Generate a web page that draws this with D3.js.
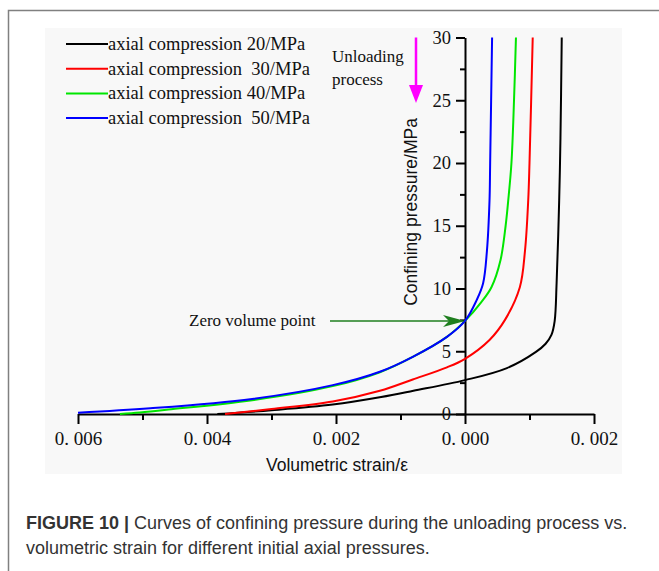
<!DOCTYPE html>
<html>
<head>
<meta charset="utf-8">
<script src="https://cdn.jsdelivr.net/npm/d3@7"></script>
<style>
  body { margin: 0; background: #fff; }
</style>
</head>
<body>
<div id="chart"></div>
<script>
// series names and colours
var seriesNames = ["axial compression 20/MPa", "axial compression  30/MPa", "axial compression 40/MPa", "axial compression  50/MPa"];
var seriesColors = ["#000000", "#ff0000", "#00e600", "#0000ff"];

// volumetric strain (positive = left) and confining pressure
var strain20 = [0.00384, 0.0030, 0.00205, 0.0013, 0.0008, 0, -0.00065, -0.00110, -0.00125, -0.00134, -0.00139, -0.00142, -0.00146, -0.00148, -0.0015];
var press20  = [0, 0.3, 0.75, 1.35, 1.85, 2.7, 3.66, 4.95, 5.6, 6.3, 7.4, 10.4, 17, 22, 30];

var strain30 = [0.00372, 0.0030, 0.00205, 0.00132, 0.00081, 0.00028, 0, -0.00038, -0.00062, -0.00085, -0.00093, -0.00098, -0.00100, -0.00105];
var press30  = [0, 0.4, 1.0, 1.85, 2.75, 3.72, 4.4, 5.9, 7.5, 10.1, 13, 17, 20, 30];

var strain40 = [0.00535, 0.00504, 0.0046, 0.0033, 0.00205, 0.00132, 0.00081, 0.00028, 0, -0.00025, -0.00041, -0.00055, -0.00063, -0.00067, -0.00072, -0.00076, -0.00079];
var press40  = [0, 0.12, 0.35, 1.1, 2.22, 3.33, 4.55, 6.15, 7.42, 8.9, 10.1, 12.25, 15, 17, 20, 25, 30];

var strain50 = [0.0060, 0.00488, 0.0033, 0.00205, 0.00132, 0.00081, 0.00028, 0, -0.00018, -0.00028, -0.00034, -0.00038, -0.00039, -0.00042];
var press50  = [0.1, 0.45, 1.2, 2.3, 3.37, 4.56, 6.15, 7.42, 9.07, 10.4, 13, 17, 20, 30];

var xTicks = [0.006, 0.004, 0.002, 0, -0.002];
var xMinor = [0.005, 0.003, 0.001, -0.001];
var yTicks = [0, 5, 10, 15, 20, 25, 30];
var yMinor = [2.5, 7.5, 12.5, 17.5, 22.5, 27.5];

var captionBold = "FIGURE 10 |";
var captionLine1 = " Curves of confining pressure during the unloading process vs.";
var captionLine2 = "volumetric strain for different initial axial pressures.";

var W = 659, H = 571;
var serif = "'Liberation Serif', 'Times New Roman', serif";
var sans = "'Liberation Sans', Arial, sans-serif";

var svg = d3.select("#chart")
  .append("svg")
    .attr("width", W)
    .attr("height", H);

// frame around the figure
svg.append("path")
  .attr("d", "M8.5," + H + "V10.5H" + W)
  .attr("fill", "none")
  .attr("stroke", "#808080")
  .attr("stroke-width", 1.5);

// light panel behind the image
svg.append("rect")
  .attr("x", 45).attr("y", 28)
  .attr("width", 577).attr("height", 446)
  .attr("fill", "#f8f8f8");

var x = d3.scaleLinear().domain([0.006, -0.002]).range([78, 594]);
var y = d3.scaleLinear().domain([0, 30]).range([414, 37.5]);

var fmt = function (d) { return d3.format(".3f")(Math.abs(d)).replace(".", ". "); };

// minor ticks first so the major axis draws over them
svg.append("g")
  .attr("transform", "translate(0," + y(0) + ")")
  .call(d3.axisBottom(x).tickValues(xMinor).tickSize(6).tickFormat(""))
  .call(function (g) { g.select(".domain").remove(); });

var xAxis = svg.append("g")
  .attr("transform", "translate(0," + y(0) + ")")
  .call(d3.axisBottom(x).tickValues(xTicks).tickSize(10).tickSizeOuter(0).tickPadding(8).tickFormat(fmt));

svg.append("g")
  .attr("transform", "translate(" + x(0) + ",0)")
  .call(d3.axisLeft(y).tickValues(yMinor).tickSize(5).tickFormat(""))
  .call(function (g) { g.select(".domain").remove(); });

var yAxis = svg.append("g")
  .attr("transform", "translate(" + x(0) + ",0)")
  .call(d3.axisLeft(y).tickValues(yTicks).tickSize(9).tickSizeOuter(0).tickPadding(5));

svg.selectAll(".domain, .tick line")
  .attr("stroke", "#000")
  .attr("stroke-width", 2);

xAxis.selectAll("text").style("font-family", serif).style("font-size", "19px").attr("fill", "#111");
yAxis.selectAll("text").style("font-family", serif).style("font-size", "18.5px").attr("fill", "#111");

// axis titles
svg.append("text")
  .attr("x", 337).attr("y", 471)
  .attr("text-anchor", "middle")
  .style("font-family", sans).style("font-size", "17.5px")
  .attr("fill", "#111")
  .text("Volumetric strain/\u03b5");

svg.append("text")
  .attr("transform", "translate(417,212) rotate(-90)")
  .attr("text-anchor", "middle")
  .style("font-family", sans).style("font-size", "17.5px")
  .attr("fill", "#111")
  .text("Confining pressure/MPa");

// curves
var allSeries = [
  d3.zip(strain20, press20),
  d3.zip(strain30, press30),
  d3.zip(strain40, press40),
  d3.zip(strain50, press50)
];

var line = d3.line()
  .x(function (d) { return x(d[0]); })
  .y(function (d) { return y(d[1]); })
  .curve(d3.curveCatmullRom.alpha(0.5));

svg.selectAll(".curve")
  .data(allSeries)
  .enter()
  .append("path")
    .attr("class", "curve")
    .attr("d", line)
    .attr("fill", "none")
    .attr("stroke", function (d, i) { return seriesColors[i]; })
    .attr("stroke-width", 2);

// legend
var legend = svg.selectAll(".legend")
  .data(seriesNames)
  .enter()
  .append("g")
    .attr("class", "legend")
    .attr("transform", function (d, i) { return "translate(66," + (44 + i * 24.7) + ")"; });

legend.append("line")
  .attr("x1", 0).attr("x2", 42)
  .attr("stroke", function (d, i) { return seriesColors[i]; })
  .attr("stroke-width", 2);

legend.append("text")
  .attr("x", 42).attr("y", 6)
  .style("font-family", serif).style("font-size", "18.5px")
  .style("white-space", "pre")
  .attr("xml:space", "preserve")
  .attr("fill", "#111")
  .text(function (d) { return d; });

// unloading annotation
svg.append("text")
  .attr("x", 332).attr("y", 62)
  .style("font-family", serif).style("font-size", "17px")
  .attr("fill", "#111")
  .text("Unloading");
svg.append("text")
  .attr("x", 332).attr("y", 85)
  .style("font-family", serif).style("font-size", "17px")
  .attr("fill", "#111")
  .text("process");

var ax = 416, ayTop = y(30), ayTip = 103;
svg.append("line")
  .attr("x1", ax).attr("x2", ax)
  .attr("y1", ayTop).attr("y2", ayTip - 12)
  .attr("stroke", "#ff00ff")
  .attr("stroke-width", 2.5);
svg.append("path")
  .attr("d", "M" + (ax - 7) + "," + (ayTip - 18) + "L" + (ax + 7) + "," + (ayTip - 18) + "L" + ax + "," + ayTip + "Z")
  .attr("fill", "#ff00ff");

// zero volume point annotation
var zy = y(7.42);
svg.append("text")
  .attr("x", 189).attr("y", zy + 5)
  .style("font-family", serif).style("font-size", "17px")
  .attr("fill", "#111")
  .text("Zero volume point");
svg.append("line")
  .attr("x1", 330).attr("x2", x(0) - 14)
  .attr("y1", zy).attr("y2", zy)
  .attr("stroke", "#1f7f1f")
  .attr("stroke-width", 1.5);
svg.append("path")
  .attr("d", "M" + (x(0) - 22) + "," + (zy - 6) + "L" + x(0) + "," + zy + "L" + (x(0) - 22) + "," + (zy + 6) + "L" + (x(0) - 16) + "," + zy + "Z")
  .attr("fill", "#1f7f1f");

// caption
var cap1 = svg.append("text")
  .attr("x", 26).attr("y", 529)
  .style("font-family", sans).style("font-size", "18px")
  .attr("fill", "#333")
  .attr("xml:space", "preserve");
cap1.append("tspan").style("font-weight", "bold").text(captionBold);
cap1.append("tspan").text(captionLine1);

svg.append("text")
  .attr("x", 26).attr("y", 554)
  .style("font-family", sans).style("font-size", "18px")
  .attr("fill", "#333")
  .text(captionLine2);
</script>
</body>
</html>
